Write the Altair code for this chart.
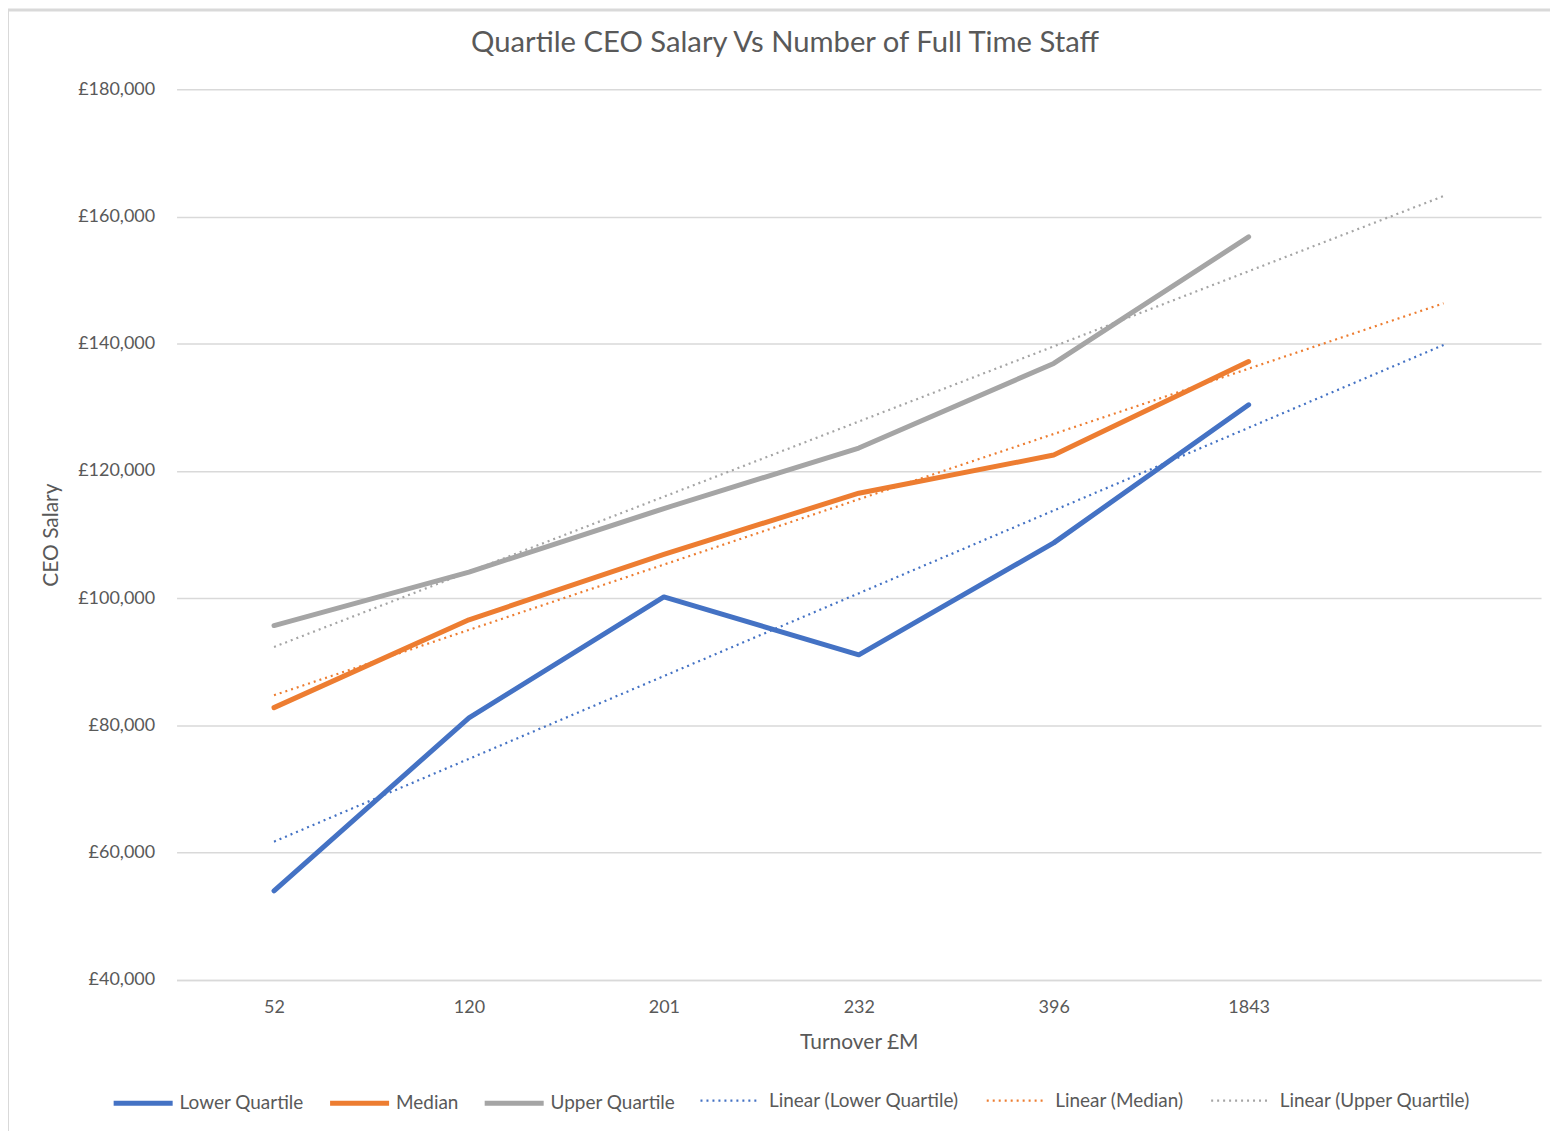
import altair as alt
import pandas as pd

categories = ["52", "120", "201", "232", "396", "1843"]
lower_quartile = [54000, 81200, 100200, 91100, 108700, 130400]
median = [82800, 96600, 106900, 116500, 122500, 137200]
upper_quartile = [95700, 104100, 114100, 123600, 136900, 156800]

series_names = ["Lower Quartile", "Median", "Upper Quartile"]
trend_names = ["Linear (Lower Quartile)", "Linear (Median)", "Linear (Upper Quartile)"]
colors = ["#4472C4", "#ED7D31", "#A5A5A5"]

rows = []
for name, vals in zip(series_names, [lower_quartile, median, upper_quartile]):
    for i, v in enumerate(vals):
        rows.append({"series": name, "idx": i + 1, "val": v})
df = pd.DataFrame(rows)

FONT = "Lato"
TXT = "#595959"

label_array = "[" + ",".join("'" + c + "'" for c in categories) + "]"

x_enc = alt.X(
    "idx:Q",
    scale=alt.Scale(domain=[0.5, 7.5], nice=False, zero=False),
    axis=alt.Axis(
        title="Turnover £M",
        values=list(range(1, len(categories) + 1)),
        labelExpr=label_array + "[datum.value - 1]",
        grid=False,
        ticks=False,
        domain=True,
        domainColor="#D9D9D9",
        domainWidth=1.5,
        labelPadding=19,
        titlePadding=15,
    ),
)
y_enc = alt.Y(
    "val:Q",
    scale=alt.Scale(domain=[40000, 180000], nice=False, zero=False),
    axis=alt.Axis(
        title="CEO Salary",
        values=list(range(40000, 180001, 20000)),
        labelExpr="'£' + format(datum.value, ',.0f')",
        grid=True,
        gridColor="#D9D9D9",
        gridWidth=1.5,
        ticks=False,
        domain=False,
        labelPadding=22,
        titlePadding=16,
    ),
)

legend_lines = alt.Legend(
    title=None,
    orient="none",
    legendX=-66,
    legendY=984,
    direction="horizontal",
    columns=3,
    columnPadding=15,
    symbolType="stroke",
    symbolSize=3500,
    symbolStrokeWidth=5,
    labelOffset=4,
    labelLimit=400,
)
legend_trends = alt.Legend(
    title=None,
    orient="none",
    legendX=524,
    legendY=984,
    direction="horizontal",
    columns=3,
    columnPadding=22,
    symbolType="stroke",
    symbolSize=3300,
    symbolStrokeWidth=2.5,
    labelOffset=10,
    labelLimit=400,
)

base = alt.Chart(df)

lines = base.mark_line(strokeWidth=5, strokeCap="round", strokeJoin="round").encode(
    x=x_enc,
    y=y_enc,
    color=alt.Color("series:N", scale=alt.Scale(domain=series_names, range=colors), legend=legend_lines),
    order=alt.Order("idx:Q"),
)

trends = (
    base.transform_regression("idx", "val", groupby=["series"], extent=[1, 7])
    .transform_calculate(series="'Linear (' + datum.series + ')'")
    .mark_line(strokeWidth=2.2)
    .encode(
        x=x_enc,
        y=y_enc,
        color=alt.Color("series:N", scale=alt.Scale(domain=trend_names, range=colors), legend=legend_trends),
        strokeDash=alt.StrokeDash(
            "series:N",
            scale=alt.Scale(domain=trend_names, range=[[2, 4], [2, 4], [2, 4]]),
            legend=legend_trends,
        ),
    )
)

frame_src = alt.Chart(pd.DataFrame({"k": [0]}))
frame_left = frame_src.mark_rule(color="#D9D9D9", strokeWidth=3).encode(
    x=alt.value(-169.5), y=alt.value(-80), y2=alt.value(1060)
)
frame_top = frame_src.mark_rule(color="#D9D9D9", strokeWidth=3).encode(
    x=alt.value(-170), x2=alt.value(1400), y=alt.value(-79.5)
)

chart = (
    alt.layer(frame_left, frame_top, lines, trends)
    .resolve_scale(color="independent", strokeDash="independent")
    .resolve_legend(color="independent", strokeDash="independent")
    .properties(
        width=1368,
        height=893,
        title=alt.TitleParams(
            "Quartile CEO Salary Vs Number of Full Time Staff",
            font=FONT, fontSize=29.3, fontWeight="normal", color=TXT, anchor="middle",
            frame="group", offset=-50, dx=-74,
        ),
        autosize=alt.AutoSizeParams(type="none"),
        padding={"left": 169, "top": 80, "right": 9, "bottom": 150},
    )
    .configure_view(stroke=None)
    .configure_axis(
        labelFont=FONT, titleFont=FONT, labelColor=TXT, titleColor=TXT,
        labelFontSize=18, titleFontSize=21, titleFontWeight="normal",
    )
    .configure_legend(labelFont=FONT, labelFontSize=19, labelColor=TXT)
)

chart.save("out.html", embed_options={"renderer": "svg", "actions": False})
